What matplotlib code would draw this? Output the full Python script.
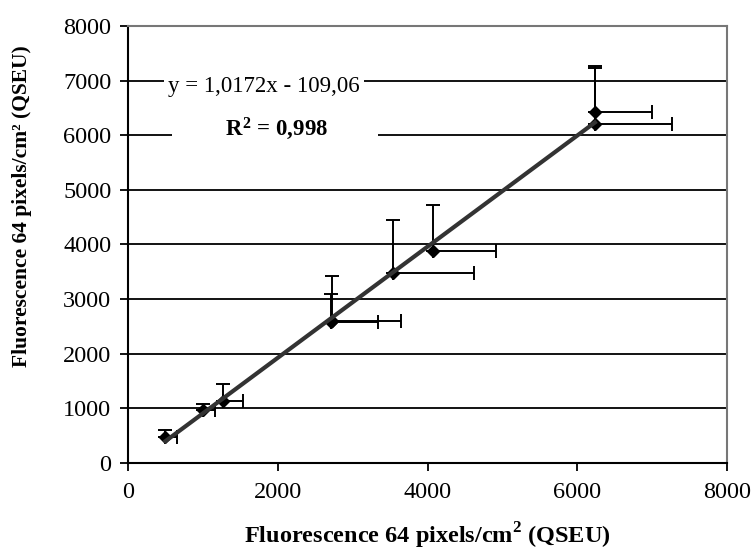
import matplotlib
matplotlib.use("Agg")
import matplotlib.pyplot as plt
import numpy as np

# values
x_vals = [500, 1000, 1268, 2710, 2724, 3545, 4070, 6235, 6235]
y_vals = [480, 975, 1140, 2580, 2590, 3480, 3880, 6430, 6210]
x_err_plus = [154, 160, 267, 628, 921, 1075, 843, 761, 1028]
y_err_plus = [124, 105, 307, 515, 835, 960, 845, 840, 1020]

# trendline shown on the chart
slope = 1.0172
intercept = -109.06
eq_label = "y = 1,0172x - 109,06"
r2_label = r"$\mathbf{R^2}$ = 0,998"

x_ticks = [0, 2000, 4000, 6000, 8000]
y_ticks = [0, 1000, 2000, 3000, 4000, 5000, 6000, 7000, 8000]

plt.rcParams['font.family'] = ['Liberation Serif', 'DejaVu Serif']
plt.rcParams['mathtext.fontset'] = 'custom'
plt.rcParams['mathtext.rm'] = 'Liberation Serif'
plt.rcParams['mathtext.bf'] = 'Liberation Serif:bold'

fig = plt.figure(figsize=(7.54, 5.55), dpi=100)
ax = fig.add_axes([0.1698, 0.1658, 0.7944, 0.7874])

# horizontal gridlines
for yv in y_ticks[1:-1]:
    ax.axhline(yv, color='black', lw=1.3, zorder=1)

x = np.array(x_vals)
y = np.array(y_vals)
zeros = np.zeros(len(x))
ax.errorbar(x, y, xerr=[zeros, x_err_plus], yerr=[zeros, y_err_plus],
            fmt='none', ecolor='black', elinewidth=1.4, capsize=5,
            capthick=1.4, zorder=3)
ax.plot(x, y, 'D', color='black', markersize=6.5, zorder=4)

xl = np.array([x.min(), x.max()])
ax.plot(xl, slope * xl + intercept, color='#333333', lw=3, zorder=5)

# white label boxes break the gridlines like in the original
ax.text(0.227, 0.862, eq_label, transform=ax.transAxes, fontsize=16.5,
        ha='center', va='center', zorder=6,
        bbox=dict(facecolor='white', edgecolor='none', pad=3))
ax.text(0.245, 0.765, "        " + r2_label + "        ",
        transform=ax.transAxes, fontsize=16.5,
        fontweight='bold', ha='center', va='center', zorder=6,
        bbox=dict(facecolor='white', edgecolor='none', pad=6))

ax.set_xlim(0, 8000)
ax.set_ylim(0, 8000)
ax.set_xticks(x_ticks)
ax.set_yticks(y_ticks)
ax.tick_params(axis='both', labelsize=17.5, direction='out', length=6,
               width=1.3, color='black')
ax.tick_params(axis='x', pad=8)
ax.tick_params(axis='y', pad=6)

for side in ['left', 'bottom']:
    ax.spines[side].set_color('black')
    ax.spines[side].set_linewidth(1.5)
for side in ['top', 'right']:
    ax.spines[side].set_color('#777777')
    ax.spines[side].set_linewidth(1.5)

ax.set_xlabel(r"Fluorescence 64 pixels/cm$^\mathbf{2}$ (QSEU)",
              fontsize=17.5, fontweight='bold', va='center')
ax.xaxis.set_label_coords(0.5, -0.167)
ax.set_ylabel("Fluorescence 64 pixels/cm² (QSEU)", fontsize=15.5,
              fontweight='bold', va='center')
ax.yaxis.set_label_coords(-0.177, 0.588)

fig.savefig("out.png", dpi=100)
